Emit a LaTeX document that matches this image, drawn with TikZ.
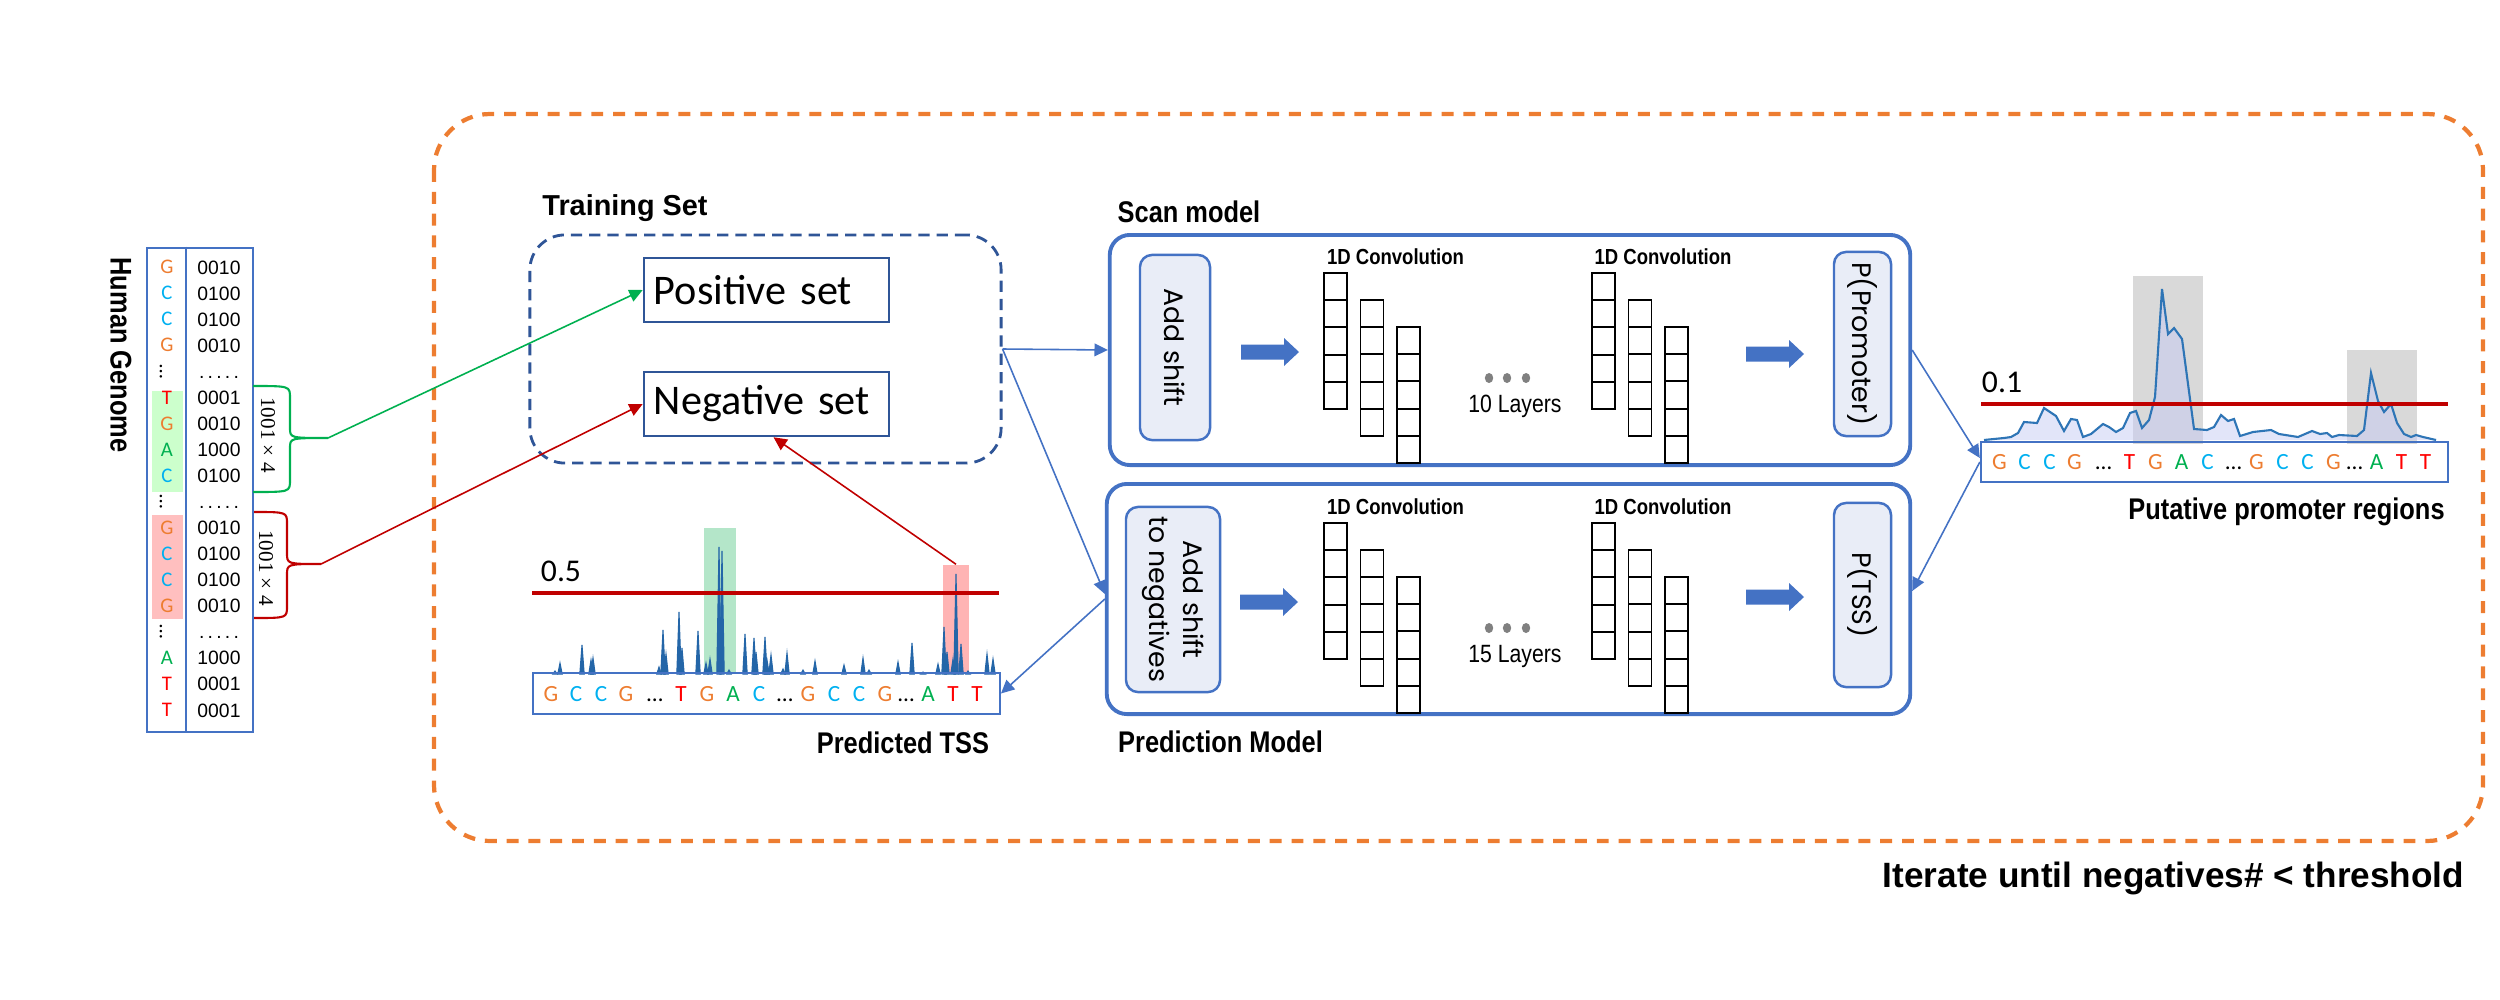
\documentclass[tikz,border=0pt]{standalone}
\usepackage{fontspec}
\usepackage{xcolor}
\usepackage{tikz}
\usetikzlibrary{arrows.meta}
\setmainfont{Carlito}
\newfontfamily\labfont[FakeStretch=0.85]{Liberation Sans}
\newfontfamily\headfont{Liberation Sans}
\newfontfamily\serfont{Liberation Serif}
\newfontfamily\roundfont{Poppins}

\definecolor{mblue}{HTML}{4472C4}
\definecolor{navy}{HTML}{2F5597}
\definecolor{iterorange}{HTML}{ED7D31}
\definecolor{ntG}{HTML}{ED7D31}
\definecolor{ntC}{HTML}{00B0F0}
\definecolor{ntT}{HTML}{FF0000}
\definecolor{ntA}{HTML}{00B050}
\definecolor{thred}{HTML}{C00000}
\definecolor{boxfill}{RGB}{233,237,247}
\definecolor{plotblue}{HTML}{2E75B6}
\definecolor{spikeblue}{HTML}{2466A8}
\definecolor{hlgreen}{RGB}{180,230,201}
\definecolor{hlred}{RGB}{255,180,180}
\definecolor{hlgray}{RGB}{217,217,217}
\definecolor{lavender}{RGB}{198,203,243}
\definecolor{gengreen}{RGB}{204,255,204}
\definecolor{genred}{RGB}{255,191,191}

% letters of the short sequences: x offset / letter / colour
\newcommand{\seqlist}{18.5/G/ntG,43.5/C/ntC,68.5/C/ntC,93.5/G/ntG,122.5/…/black,148.5/T/ntT,174.5/G/ntG,200.5/A/ntA,226.5/C/ntC,252.5/…/black,275.5/G/ntG,301.5/C/ntC,326.5/C/ntC,352.5/G/ntG,373.5/…/black,395.5/A/ntA,420.5/T/ntT,444.5/T/ntT}
% genome rows: row / letter / colour / one-hot code
\newcommand{\genlist}{1/G/ntG/0010,2/C/ntC/0100,3/C/ntC/0100,4/G/ntG/0010,6/T/ntT/0001,7/G/ntG/0010,8/A/ntA/1000,9/C/ntC/0100,11/G/ntG/0010,12/C/ntC/0100,13/C/ntC/0100,14/G/ntG/0010,16/A/ntA/1000,17/T/ntT/0001,18/T/ntT/0001}

\newcommand{\blockarr}[2]{\fill[mblue] (#1,#2-7.5) -- ++(43,0) -- ++(0,-6.5) -- ++(15,14) -- ++(-15,14) -- ++(0,-6.5) -- ++(-43,0) -- cycle;}
\newcommand{\convgroup}[2]{%
  \foreach \c in {0,1,2}{
    \foreach \r in {0,...,4}{
      \draw[convcell] (#1+36.5*\c,#2+27*\c+27.2*\r) rectangle ++(23,27.2);
    }
  }}

\begin{document}
\begin{tikzpicture}[x=0.01cm,y=-0.01cm]

        \tikzstyle{flow}     = [-{Triangle[length=3.8pt,width=3.6pt]}, line width=0.45pt, draw=mblue, fill=mblue]
        \tikzstyle{setbox}   = [draw=navy, line width=0.7pt, minimum width=2.45cm, minimum height=0.64cm, text width=2.25cm, inner sep=0.1cm, align=left, font=\fontsize{12}{14}\selectfont]
        \tikzstyle{modelbox} = [draw=mblue, line width=1.1pt, rounded corners=0.2cm, minimum width=8cm, minimum height=2.3cm, inner sep=0pt]
        \tikzstyle{innerbox} = [draw=mblue, fill=boxfill, line width=0.7pt, rounded corners=0.12cm, rotate=-90, inner sep=0pt, align=center, font=\roundfont\fontsize{7.6}{9.6}\selectfont]
        \tikzstyle{seqbox}   = [draw=mblue, line width=0.6pt, minimum width=4.67cm, minimum height=0.405cm, inner sep=0pt]
        \tikzstyle{seqchar}  = [inner sep=0pt, anchor=base, font=\fontsize{6.6}{8}\selectfont]
        \tikzstyle{genchar}  = [inner sep=0pt, font=\fontsize{5.9}{7}\selectfont]
        \tikzstyle{gennum}   = [inner sep=0pt, anchor=base, font=\headfont\fontsize{5.5}{7}\selectfont]
        \tikzstyle{dimlab}   = [inner sep=0pt, rotate=-90, font=\serfont\fontsize{6}{7}\selectfont]
        \tikzstyle{convcell} = [draw=black, line width=0.55pt]
        \tikzstyle{titlelab} = [inner sep=0pt, font=\labfont\bfseries\fontsize{8.5}{10}\selectfont]
        \tikzstyle{traintitle} = [inner sep=0pt, font=\headfont\bfseries\fontsize{8.2}{10}\selectfont]
        \tikzstyle{convlab}  = [inner sep=0pt, font=\labfont\bfseries\fontsize{6.2}{7}\selectfont]
        \tikzstyle{layerlab} = [inner sep=0pt, font=\labfont\fontsize{7.1}{8}\selectfont]
        \tikzstyle{thresh}   = [draw=thred, line width=0.9pt]
        \tikzstyle{threshlab}= [inner sep=0pt, font=\fontsize{9}{10}\selectfont]

        \useasboundingbox (0,0) rectangle (2500,1000);

        % iteration loop
        \draw[iterorange, line width=1.2pt, dash pattern=on 3.4pt off 2.8pt, rounded corners=0.56cm] (434,114) rectangle (2483,841);
        \node[inner sep=0pt, font=\headfont\bfseries\fontsize{10}{12}\selectfont] (iterlab) at (2173.5,878) {Iterate until negatives\# < threshold};

        % human genome
        \fill[gengreen] (152,391) rectangle (183,492);
        \fill[genred] (152,515) rectangle (183,619);
        \node[draw=mblue, line width=0.7pt, minimum width=1.06cm, minimum height=4.84cm, inner sep=0pt] (genome) at (200,490) {};
        \draw[mblue, line width=0.7pt] ([xshift=0.4cm]genome.north west) -- ([xshift=0.4cm]genome.south west);
        \node[titlelab, rotate=-90] (genlab) at (121,355) {Human Genome};

        \foreach \k/\nt/\ntc/\code in \genlist
        {
                \node[genchar, anchor=base, text=\ntc] (gl\k) at (167,267+26.06*\k-26.06+6.7) {\nt};
                \node[gennum] (gn\k) at (219,267+26.06*\k-26.06+7) {\code};
        }
        \foreach \k in {5,10,15}
        {
                \node[genchar, rotate=-90] (gd\k) at (161,267+26.06*\k-26.06) {…};
                \node[gennum] (gnd\k) at (219,267+26.06*\k-26.06+7) {.\,.\,.\,.\,.};
        }

        \coordinate (gtip) at (328,438);
        \coordinate (rtip) at (321,564);
        \draw[ntA, line width=0.6pt] (253,386) .. controls (290,386) .. (290,398) -- (290,428) .. controls (290,438) .. (gtip) .. controls (290,438) .. (290,448) -- (290,480) .. controls (290,492) .. (253,492);
        \draw[thred, line width=0.6pt] (254,512) .. controls (287,512) .. (287,524) -- (287,553) .. controls (287,564) .. (rtip) .. controls (287,564) .. (287,575) -- (287,606) .. controls (287,618) .. (254,618);
        \node[dimlab] (gdim) at (268,435) {1001 × 4};
        \node[dimlab] (rdim) at (266,568) {1001 × 4};

        % training set
        \node[traintitle] (trainlab) at (625,208) {Training Set};
        \node[draw=navy, line width=0.8pt, dash pattern=on 3.2pt off 2pt, rounded corners=0.35cm, minimum width=4.71cm, minimum height=2.28cm] (trainset) at (765.5,349) {};
        \node[setbox] (posset) at (766.5,290) {Positive set};
        \node[setbox] (negset) at (766.5,404) {Negative set};

        % scan model
        \node[titlelab] (scanlab) at (1189,212) {Scan model};
        \node[modelbox] (scan) at (1510,350) {};
        \node[innerbox, minimum width=1.85cm, minimum height=0.7cm] (shiftscan) at (1175,347.5) {Add shift};
        \blockarr{1241}{352}
        \convgroup{1324}{273}
        \convgroup{1592}{273}
        \node[convlab] (conva1) at (1395.5,257) {1D Convolution};
        \node[convlab] (conva2) at (1663,257) {1D Convolution};
        \foreach \x in {1489,1507,1526}
                \fill[gray] (\x,378) ellipse (0.042cm and 0.05cm);
        \node[layerlab] (layersa) at (1515,406) {10 Layers};
        \blockarr{1746}{354}
        \node[innerbox, minimum width=1.84cm, minimum height=0.57cm] (probscan) at (1862.5,344) {P(Promoter)};

        % prediction model
        \node[titlelab] (predlab) at (1220.5,742) {Prediction Model};
        \node[modelbox, minimum width=8.03cm] (pred) at (1508.5,599) {};
        \node[innerbox, minimum width=1.85cm, minimum height=0.94cm] (shiftpred) at (1173,599.5) {Add shift\\to negatives};
        \blockarr{1240}{602}
        \convgroup{1324}{523}
        \convgroup{1592}{523}
        \node[convlab] (convb1) at (1395.5,507) {1D Convolution};
        \node[convlab] (convb2) at (1663,507) {1D Convolution};
        \foreach \x in {1489,1507,1526}
                \fill[gray] (\x,628) ellipse (0.042cm and 0.05cm);
        \node[layerlab] (layersb) at (1515,656) {15 Layers};
        \blockarr{1746}{597}
        \node[innerbox, minimum width=1.84cm, minimum height=0.57cm] (probpred) at (1862.5,595) {P(TSS)};

        % predicted TSS
        \node[fill=hlgreen, minimum width=0.32cm, minimum height=1.46cm, inner sep=0pt] (tssgreen) at (720,601) {};
        \node[fill=hlred, minimum width=0.26cm, minimum height=1.09cm, inner sep=0pt] (tssred) at (956,619.5) {};
        \draw[spikeblue, line width=0.8pt] (536,673) -- (996,673);
        \foreach \px/\py in {555/671, 560/663, 582/645, 591/660, 593/658, 659/667, 663/630, 666/654, 679/612, 682/648, 698/631, 706/663, 710/659, 719/547, 722/551, 729/670, 745/634, 754/638, 756/652, 765/637, 767/660, 771/655, 783/669, 787/653, 803/670, 815/661, 844/665, 863/658, 869/670, 898/662, 912/643, 923/672, 938/664, 944/627, 947/652, 953/659, 956/574, 961/644, 968/671, 987/654, 993/659}
                \filldraw[spikeblue, line width=0.3pt] (\px-2.2,674) -- (\px,\py) -- (\px+2.2,674) -- cycle;
        \draw[thresh] (532,593) -- (999,593);
        \node[threshlab] (tsscut) at (561,571) {0.5};
        \node[seqbox] (tssseq) at (766.25,693.5) {};
        \foreach \dx/\ch/\col [count=\i] in \seqlist
                \node[seqchar, text=\col] (ts\i) at (532.5+\dx,701.5) {\ch};
        \node[titlelab] (tsslab) at (903,743) {Predicted TSS};

        % putative promoter regions
        \fill[hlgray] (2132.5,276) rectangle (2203,444);
        \fill[hlgray] (2347,350) rectangle (2417,444);
        \filldraw[fill=lavender, fill opacity=0.5, draw=plotblue, line width=0.6pt] plot coordinates {(1984,440) (2004,438) (2011,437) (2018,433) (2024,422) (2037,423) (2044,408) (2056,416) (2064,431) (2071,419) (2077,420) (2083,437) (2091,434) (2103,424) (2109,427) (2116,432) (2123,428) (2130,413) (2136,411) (2142,428) (2149,420) (2155,397) (2162,289) (2168,334) (2174,328) (2182,339) (2194,429) (2207,430) (2214,427) (2221,415) (2228,421) (2234,419) (2240,436) (2253,432) (2271,430) (2279,434) (2298,437) (2312,431) (2320,434) (2327,433) (2332,437) (2339,435) (2357,436) (2364,430) (2371,373) (2378,401) (2384,412) (2391,404) (2397,423) (2404,434) (2411,437) (2416,435) (2423,437) (2436,440)};
        \draw[thresh] (1981,404) -- (2448,404);
        \node[threshlab] (putcut) at (2002,382) {0.1};
        \node[seqbox] (putseq) at (2214.5,462) {};
        \foreach \dx/\ch/\col [count=\i] in \seqlist
                \node[seqchar, text=\col] (ps\i) at (1981+\dx,469.5) {\ch};
        \node[titlelab] (putlab) at (2286.5,512) {Putative promoter regions};

        % connectors
        \draw[flow, draw=ntA, fill=ntA] (gtip) -- (posset.west);
        \draw[flow, draw=thred, fill=thred] (rtip) -- (negset.west);
        \draw[flow, draw=thred, fill=thred] (tssred.north) -- ([xshift=0.07cm]negset.south);
        \draw[flow] (trainset.east) -- (scan.west);
        \draw[flow] (trainset.east) -- ([yshift=0.05cm]pred.west);
        \draw[flow] (pred.west) -- (tssseq.east);
        \draw[flow] (scan.east) -- ([yshift=0.04cm]putseq.west);
        \draw[flow] (putseq.west) -- ([yshift=0.08cm]pred.east);

\end{tikzpicture}
\end{document}
